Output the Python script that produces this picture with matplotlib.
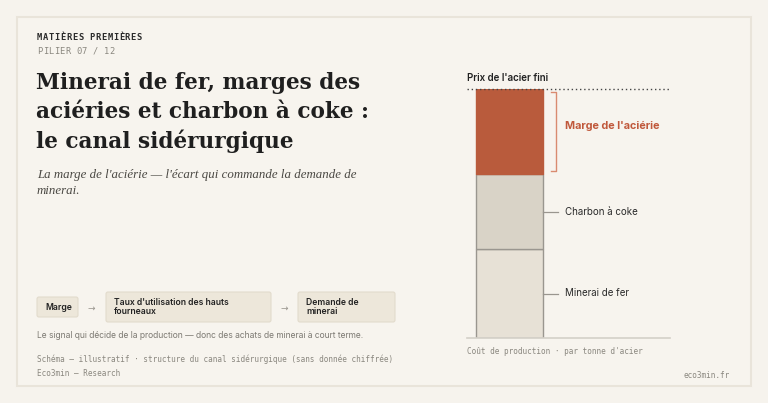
import matplotlib
matplotlib.use("Agg")
import matplotlib.pyplot as plt
from matplotlib.patches import FancyBboxPatch, Rectangle

# Cost stack per tonne of steel (schematic)
segments = ["Minerai de fer", "Charbon à coke", "Marge de l'aciérie"]
heights = [89, 75, 85]
fills = ["#e7e1d6", "#d9d3c7", "#b95b3c"]
edges = ["#9a968f", "#9a968f", "#b95b3c"]

flow_steps = ["Marge", "Taux d'utilisation des hauts\nfourneaux", "Demande de\nminerai"]

W, H = 768, 403
BG = "#f6f3ed"
SERIF = ["DejaVu Serif"]
SANS = ["Inter", "DejaVu Sans"]
MONO = ["DejaVu Sans Mono"]

fig = plt.figure(figsize=(W / 100, H / 100), dpi=100, facecolor=BG)

# background canvas in pixel coords (y down)
bg = fig.add_axes([0, 0, 1, 1])
bg.set_xlim(0, W)
bg.set_ylim(H, 0)
bg.axis("off")
bg.add_patch(Rectangle((17, 17), 734, 369, facecolor="#f7f4ee", edgecolor="#e9e4da", lw=1.5))


def spaced(x, y, s, step, **kw):
    # letter-spaced monospace text
    for i, ch in enumerate(s):
        bg.text(x + i * step, y, ch, va="center", **kw)


# header
spaced(37, 38, "MATIÈRES PREMIÈRES", 5.85, family=MONO, fontsize=6.3,
       fontweight="bold", color="#2b2b2b")
spaced(37, 51, "PILIER 07 / 12", 5.6, family=MONO, fontsize=6.3, color="#8a877f")

title = ["Minerai de fer, marges des", "aciéries et charbon à coke :", "le canal sidérurgique"]
for i, line in enumerate(title):
    bg.text(36, 83 + i * 29, line, family=SERIF, fontsize=15.6, fontweight="bold",
            color="#1f1f1f", va="center")

bg.text(37, 175, "La marge de l'aciérie — l'écart qui commande la demande de",
        family=["Liberation Serif"], fontsize=9.3, style="italic", color="#4a4843", va="center")
bg.text(37, 191, "minerai.", family=["Liberation Serif"], fontsize=9.3, style="italic",
        color="#4a4843", va="center")

# flow boxes
boxes = [(37, 297, 41, 20), (106, 292, 165, 30), (298, 292, 97, 30)]
for (x, y, w, h), label in zip(boxes, flow_steps):
    bg.add_patch(FancyBboxPatch((x, y), w, h, boxstyle="round,pad=0,rounding_size=2",
                                facecolor="#ede7da", edgecolor="#e2dbcc", lw=0.8))
    bg.text(x + 8, y + h / 2, label, family=SANS, fontsize=6.2, fontweight="semibold",
            color="#222222", va="center", linespacing=1.05)
for ax_x in (91, 284):
    bg.text(ax_x, 308, "→", family=["DejaVu Sans"], fontsize=6.5, color="#9a968f",
            ha="center", va="center")

bg.text(37, 336, "Le signal qui décide de la production — donc des achats de minerai à court terme.",
        family=SANS, fontsize=6.1, color="#7c7972", va="center")
bg.text(37, 359, "Schéma — illustratif · structure du canal sidérurgique (sans donnée chiffrée)",
        family=MONO, fontsize=5.5, color="#8a877f", va="center")
bg.text(37, 374, "Eco3min — Research", family=MONO, fontsize=5.5, color="#8a877f", va="center")
bg.text(730, 375, "eco3min.fr", family=MONO, fontsize=5.5, color="#8a877f", va="center", ha="right")

# stacked bar axes: x 467..670 px, y 89..338 px
ax = fig.add_axes([467 / W, 1 - 338 / H, (670 - 467) / W, (338 - 89) / H])
ax.set_facecolor("none")
total = sum(heights)
ax.set_xlim(0, 1)
ax.set_ylim(0, total)
ax.axis("off")

bottom = 0
mids = []
for h, fc, ec in zip(heights, fills, edges):
    ax.bar(0.044, h, width=0.33, bottom=bottom, align="edge", facecolor=fc,
           edgecolor=ec, linewidth=1.0)
    mids.append(bottom + h / 2)
    bottom += h

ax.axhline(0, color="#d4d0c8", lw=1.2, clip_on=False)
ax.axhline(total, color="#444444", lw=1.0, ls=(0, (1, 2)), clip_on=False)
ax.text(0, total + 11, "Prix de l'acier fini", family=SANS, fontsize=7, fontweight="semibold",
        color="#222222", va="center")

# leader lines for cost segments
for name, y in zip(segments[:2], mids[:2]):
    ax.plot([0.374, 0.448], [y, y], color="#9a968f", lw=0.9, clip_on=False)
    ax.text(0.483, y, name, family=SANS, fontsize=7, color="#2a2a2a", va="center")

# bracket for the margin
m_lo = heights[0] + heights[1] + 3
m_hi = total - 3
ax.plot([0.414, 0.438, 0.438, 0.414], [m_lo, m_lo, m_hi, m_hi], color="#d98b70", lw=1.0,
        clip_on=False)
ax.text(0.483, mids[2] + 6, segments[2], family=SANS, fontsize=7.8, fontweight="bold",
        color="#c0583b", va="center")

ax.text(0, -14, "Coût de production · par tonne d'acier", family=MONO, fontsize=5.5,
        color="#8a877f", va="center")

fig.savefig("out.png", dpi=100, facecolor=BG)
